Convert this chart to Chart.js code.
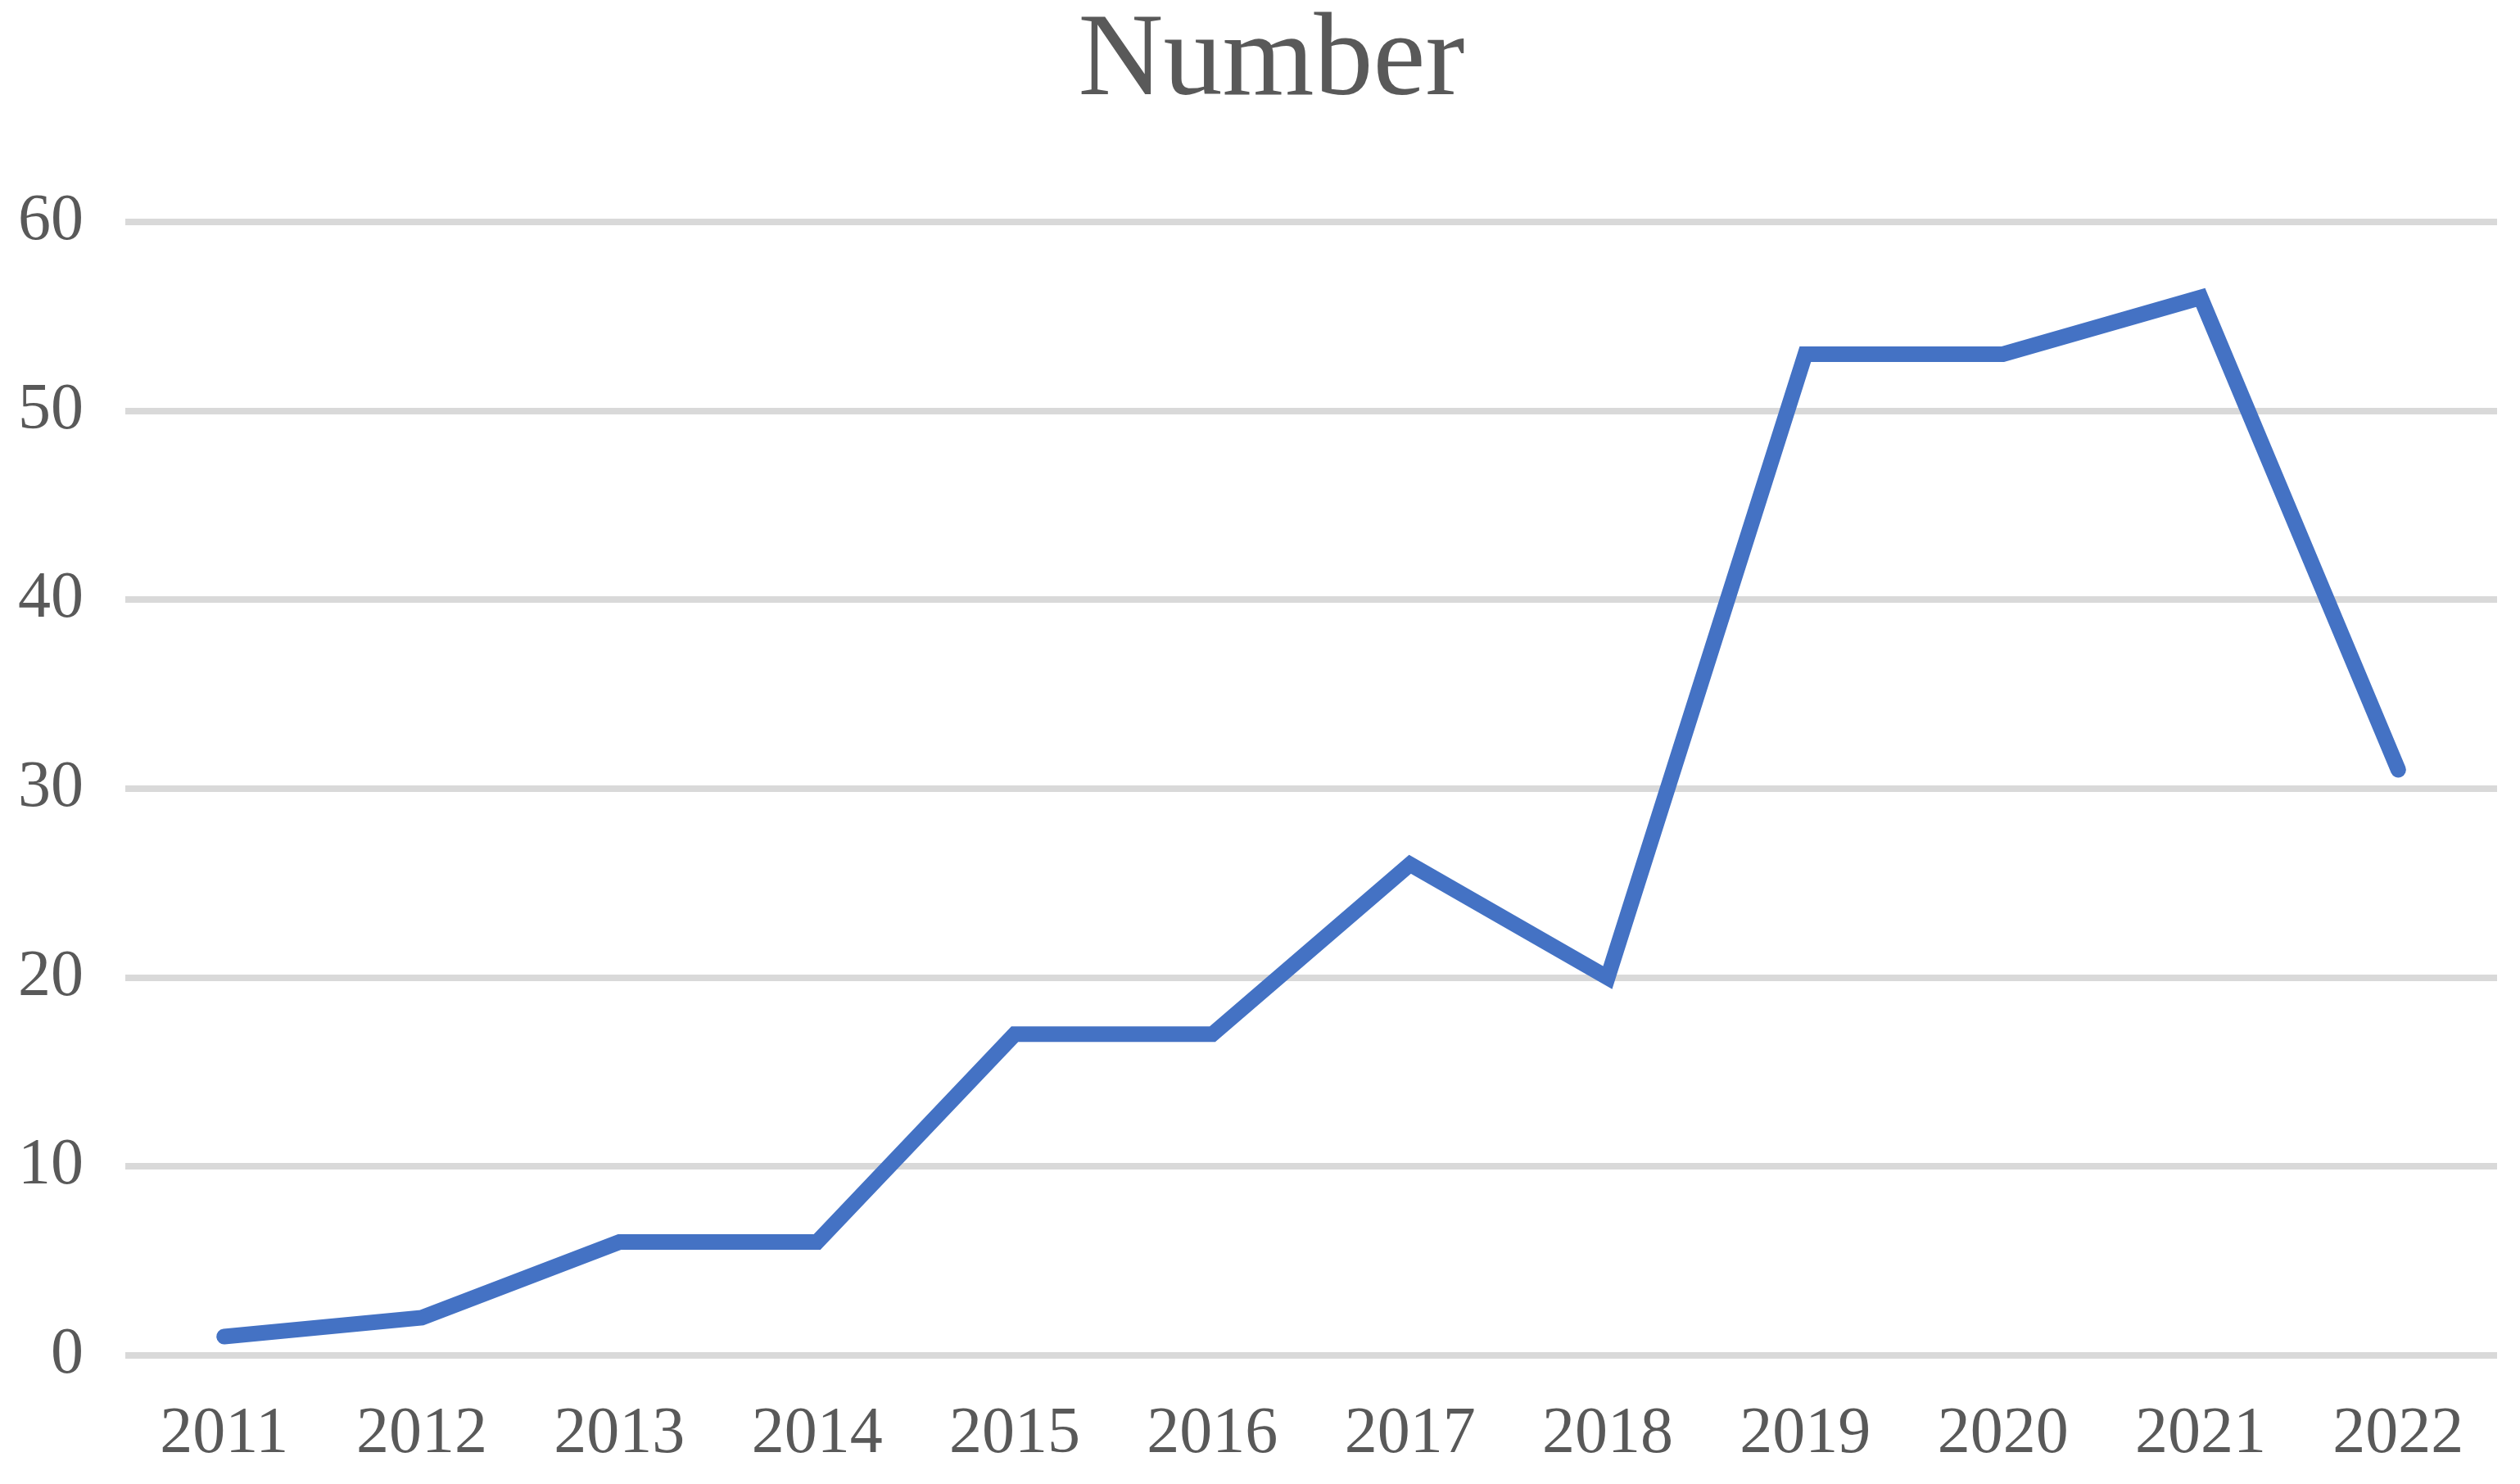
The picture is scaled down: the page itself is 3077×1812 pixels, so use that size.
<!DOCTYPE html>
<html lang="en">
<head>
    <meta charset="UTF-8">
    <title>Number</title>
    <script src="https://cdn.jsdelivr.net/npm/chart.js"></script>
    <style>
        html, body { margin: 0; padding: 0; background: #ffffff; }
        .chart-container { position: relative; width: 3077px; height: 1812px; }
    </style>
</head>
<body>
    <div class="chart-container">
        <canvas id="lineChart"></canvas>
    </div>
    <script>
        // Data
        const years = ['2011', '2012', '2013', '2014', '2015', '2016', '2017', '2018', '2019', '2020', '2021', '2022'];
        const counts = [1, 2, 6, 6, 17, 17, 26, 20, 53, 53, 56, 31];
        const yTicks = [0, 10, 20, 30, 40, 50, 60];

        const textColor = '#595959';
        const fontFamily = '"Liberation Serif", "DejaVu Serif", serif';

        // the original title sits a bit right of the canvas centre
        const titleShift = {
            id: 'titleShift',
            afterLayout(chart) {
                if (chart.titleBlock) {
                    chart.titleBlock.left += 28;
                    chart.titleBlock.right += 28;
                }
            }
        };

        new Chart(document.getElementById('lineChart'), {
            type: 'line',
            data: {
                labels: years,
                datasets: [{
                    label: 'Number',
                    data: counts,
                    borderColor: '#4472C4',
                    borderWidth: 19,
                    borderCapStyle: 'round',
                    borderJoinStyle: 'miter',
                    pointRadius: 0,
                    tension: 0,
                    fill: false
                }]
            },
            plugins: [titleShift],
            options: {
                responsive: true,
                maintainAspectRatio: false,
                animation: false,
                layout: { padding: { left: 0, right: 28, top: 0, bottom: 0 } },
                plugins: {
                    legend: { display: false },
                    tooltip: { enabled: false },
                    title: {
                        display: true,
                        text: 'Number',
                        color: textColor,
                        font: { family: fontFamily, size: 144, weight: 'normal', lineHeight: 1.0 },
                        padding: { top: 5, bottom: 122 }
                    }
                },
                scales: {
                    x: {
                        offset: true,
                        grid: { display: false, drawTicks: false },
                        border: { display: false },
                        ticks: {
                            color: textColor,
                            font: { family: fontFamily, size: 80 },
                            padding: 49,
                            maxRotation: 0,
                            autoSkip: false
                        },
                        afterFit: (scale) => { scale.height = 157; }
                    },
                    y: {
                        min: yTicks[0],
                        max: yTicks[yTicks.length - 1],
                        grid: { color: '#D9D9D9', lineWidth: 8, drawTicks: false },
                        border: { display: false },
                        ticks: {
                            stepSize: 10,
                            color: textColor,
                            font: { family: fontFamily, size: 80 },
                            padding: 51
                        },
                        afterFit: (scale) => { scale.width = 153; }
                    }
                }
            }
        });
    </script>
</body>
</html>
